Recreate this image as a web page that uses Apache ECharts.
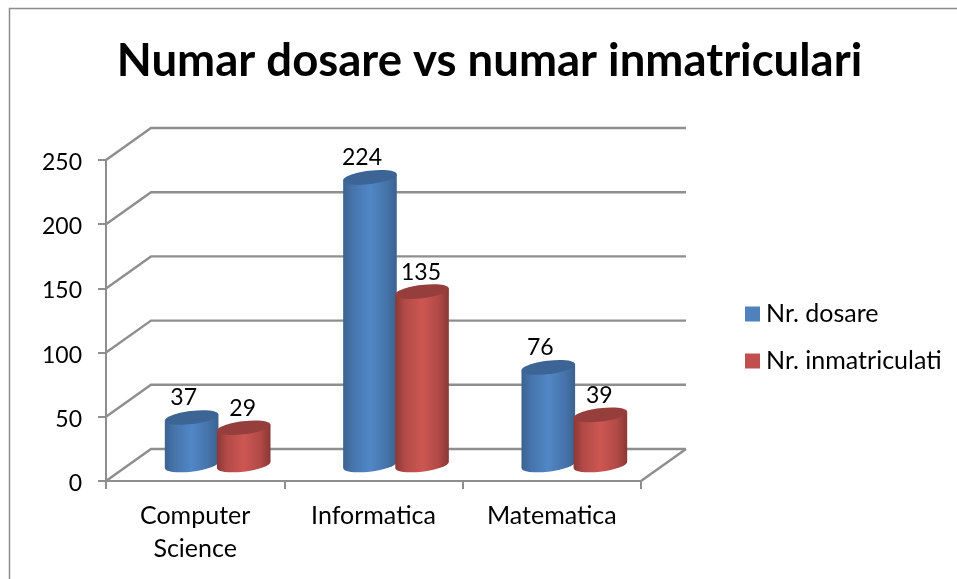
<!DOCTYPE html>
<html>
<head>
<meta charset="utf-8">
<style>
  html, body { margin: 0; padding: 0; background: #fff; }
  #chart { width: 957px; height: 579px; }
</style>
<script src="https://cdn.jsdelivr.net/npm/echarts@6/dist/echarts.min.js"></script>
</head>
<body>
<div id="chart"></div>
<script>
const categories = ['Computer\nScience', 'Informatica', 'Matematica'];
const dosare = [37, 224, 76];
const inmatriculati = [29, 135, 39];
const yTicks = [0, 50, 100, 150, 200, 250];

const FONT = 'Lato, "Noto Sans", sans-serif';
const GREY = '#8e8e8e';
// adancimea peretilor 3D, in pixeli
const DEPTH_X = 45;
const DEPTH_Y = -32;

// liniile de pe pereti: diagonala + orizontala din spate
function renderWall(params, api) {
  const rect = params.coordSys;
  const y = api.coord([0, api.value(1)])[1];
  const children = [];
  const lineStyle = { stroke: GREY, lineWidth: 2.4, fill: null };
  children.push({
    type: 'polyline',
    shape: {
      points: [
        [rect.x, y],
        [rect.x + DEPTH_X, y + DEPTH_Y],
        [rect.x + rect.width + DEPTH_X, y + DEPTH_Y]
      ]
    },
    style: lineStyle
  });
  // podeaua are si muchia din dreapta
  if (api.value(1) === 0) {
    children.push({
      type: 'line',
      shape: {
        x1: rect.x + rect.width, y1: y,
        x2: rect.x + rect.width + DEPTH_X, y2: y + DEPTH_Y
      },
      style: lineStyle
    });
  }
  return { type: 'group', children };
}

// cilindru inclinat, centrat la mijlocul adancimii
function cylinderRenderer(side, colors, labelDx) {
  return function (params, api) {
    const band = api.size([1, 0])[0];
    const top = api.coord([api.value(0), api.value(1)]);
    const base = api.coord([api.value(0), 0]);
    const cx = top[0] + DEPTH_X / 2 + side * band * 0.146;
    const topY = top[1] + DEPTH_Y / 2;
    const baseY = base[1] + DEPTH_Y / 2;
    const rx = 27;
    const ry = 6.6;
    const tilt = -7;
    const rad = tilt * Math.PI / 180;
    // punctele de tangenta verticala ale elipsei rotite
    const t = Math.atan(-(ry / rx) * Math.tan(rad));
    const hw = rx * Math.cos(t) * Math.cos(rad) - ry * Math.sin(t) * Math.sin(rad);
    const dy = rx * Math.cos(t) * Math.sin(rad) + ry * Math.sin(t) * Math.cos(rad);
    const gradient = new echarts.graphic.LinearGradient(0, 0, 1, 0, [
      { offset: 0, color: colors.edge },
      { offset: 0.18, color: colors.mid },
      { offset: 0.5, color: colors.light },
      { offset: 0.8, color: colors.mid },
      { offset: 1, color: colors.edge }
    ]);
    const pathData = 'M' + (cx - hw) + ' ' + (topY - dy) +
      'L' + (cx + hw) + ' ' + (topY + dy) +
      'L' + (cx + hw) + ' ' + (baseY + dy) +
      'A' + rx + ' ' + ry + ' ' + tilt + ' 0 1 ' + (cx - hw) + ' ' + (baseY - dy) + 'Z';
    return {
      type: 'group',
      children: [
        { type: 'path', shape: { pathData }, style: { fill: gradient } },
        {
          type: 'ellipse',
          shape: { cx: 0, cy: 0, rx, ry },
          x: cx, y: topY, rotation: -rad,
          style: { fill: colors.top }
        },
        {
          type: 'text',
          style: {
            x: cx + labelDx,
            y: topY - 31,
            text: String(api.value(1)),
            fill: '#000',
            font: '23px ' + FONT,
            textAlign: 'center'
          }
        }
      ]
    };
  };
}

const blue = { edge: '#3a628f', mid: '#4674ab', light: '#5187c6', top: '#3c6595' };
const red = { edge: '#8a3735', mid: '#b24a47', light: '#cd5652', top: '#963e3c' };

const chart = echarts.init(document.getElementById('chart'), null, { renderer: 'canvas' });
chart.setOption({
  animation: false,
  backgroundColor: '#fff',
  title: {
    text: 'Numar dosare vs numar inmatriculari',
    left: 484.5,
    top: 33,
    textAlign: 'center',
    textStyle: { fontFamily: FONT, fontSize: 45.5, fontWeight: 'bold', color: '#000' }
  },
  legend: {
    orient: 'vertical',
    left: 740,
    top: 295,
    itemWidth: 15,
    itemHeight: 15,
    itemGap: 19,
    icon: 'rect',
    data: ['Nr. dosare', 'Nr. inmatriculati'],
    textStyle: { fontFamily: FONT, fontSize: 25, lineHeight: 28, color: '#000', padding: [0, 0, 0, 1] }
  },
  grid: { left: 106, top: 160, width: 535, height: 321 },
  xAxis: {
    type: 'category',
    data: categories,
    axisLine: { lineStyle: { color: GREY, width: 2 } },
    axisTick: { show: true, length: 8, lineStyle: { color: GREY, width: 2 } },
    axisLabel: { fontFamily: FONT, fontSize: 25, color: '#000', margin: 18, lineHeight: 33, interval: 0 }
  },
  yAxis: {
    type: 'value',
    min: 0,
    max: 250,
    interval: 50,
    splitLine: { show: false },
    axisLine: { show: true, lineStyle: { color: GREY, width: 2 } },
    axisTick: { show: true, length: 8, lineStyle: { color: GREY, width: 2 } },
    axisLabel: { fontFamily: FONT, fontSize: 23, color: '#000', margin: 24, verticalAlign: 'top', lineHeight: 5 }
  },
  graphic: [{
    type: 'rect',
    shape: { x: 9.5, y: 8.5, width: 1000, height: 600 },
    style: { fill: null, stroke: '#8c8c8c', lineWidth: 1.5 },
    silent: true
  }],
  series: [
    {
      type: 'custom',
      name: 'pereti',
      z: 1,
      silent: true,
      renderItem: renderWall,
      data: yTicks.map(v => [0, v])
    },
    {
      type: 'custom',
      name: 'Nr. dosare',
      z: 3,
      itemStyle: { color: '#4f81bd' },
      renderItem: cylinderRenderer(-1, blue, -8),
      data: dosare.map((v, i) => [i, v])
    },
    {
      type: 'custom',
      name: 'Nr. inmatriculati',
      z: 4,
      itemStyle: { color: '#c0504d' },
      renderItem: cylinderRenderer(1, red, -1),
      data: inmatriculati.map((v, i) => [i, v])
    }
  ]
});
</script>
</body>
</html>
